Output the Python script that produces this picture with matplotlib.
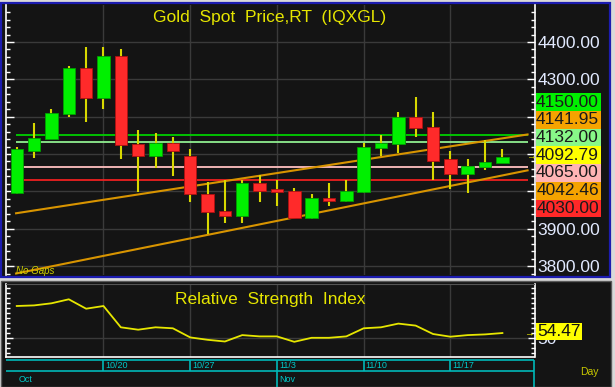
import matplotlib
matplotlib.use('Agg')
import matplotlib.pyplot as plt
from matplotlib.patches import Rectangle
import matplotlib.ticker as mticker
import numpy as np

plt.rcParams['font.family'] = ['Liberation Sans', 'DejaVu Sans']

# ---------------- data ----------------
dates = ['10/13', '10/14', '10/15', '10/16', '10/17',
         '10/20', '10/21', '10/22', '10/23', '10/24',
         '10/27', '10/28', '10/29', '10/30', '10/31',
         '11/3', '11/4', '11/5', '11/6', '11/7',
         '11/10', '11/11', '11/12', '11/13', '11/14',
         '11/17', '11/18', '11/19', '11/20']
opens = [3995, 4109, 4139, 4207, 4331, 4251, 4362, 4127, 4095, 4129,
         4095, 3994, 3947, 3935, 4022, 4005, 4002, 3928, 3981, 3975,
         3997, 4115, 4127, 4200, 4173, 4086, 4046, 4064, 4075]
highs = [4120, 4182, 4220, 4336, 4386, 4386, 4380, 4164, 4157, 4146,
         4113, 4024, 4030, 4030, 4044, 4030, 4008, 3992, 4022, 4030,
         4129, 4151, 4213, 4252, 4213, 4109, 4087, 4138, 4113]
lows = [3994, 4088, 4139, 4200, 4187, 4220, 4086, 3999, 4063, 4041,
        3971, 3885, 3914, 3914, 3971, 3961, 3928, 3926, 3961, 3971,
        3995, 4095, 4102, 4146, 4030, 4005, 3995, 4057, 4075]
closes = [4113, 4142, 4210, 4331, 4251, 4362, 4123, 4095, 4129, 4109,
          3992, 3945, 3935, 4022, 4001, 3998, 3928, 3981, 3975, 4002,
          4120, 4129, 4200, 4170, 4082, 4046, 4069, 4079, 4092.79]
rsi = [81.5, 82.1, 84.2, 88.2, 78.8, 81.5, 60.2, 57.8, 60.2, 59.2,
       50.1, 47.7, 46.0, 52.4, 51.1, 51.1, 45.7, 49.7, 49.7, 51.1,
       59.2, 60.2, 63.9, 61.9, 53.5, 50.8, 52.4, 53.1, 54.47]

week_labels = ['10/20', '10/27', '11/3', '11/10', '11/17']
month_labels = ['Oct', 'Nov']
month_starts = ['10/13', '11/3']

levels = [4150.00, 4132.00, 4065.00, 4030.00]
level_colors = ['#00d000', '#90ee90', '#ffc0c0', '#ee2020']

trend_x = [-0.04, 29.45]
trend_upper = [3941.3, 4152.3]
trend_lower = [3780.0, 4056.2]

price_ticks = [3800, 3900, 4000, 4100, 4200, 4300, 4400]
price_tick_labels = ['3800.00', '3900.00', '', '', '', '4300.00', '4400.00']

box_values = [4150.00, 4141.95, 4132.00, 4092.79, 4065.00, 4042.46, 4030.00]
box_colors = ['#00f000', '#f5a300', '#88f888', '#ffff00', '#ffb4b4', '#f5a300', '#ff2828']
rsi_ticks = [50]
rsi_tick_labels = ['50']
rsi_last = 54.47

# ---------------- layout helpers ----------------
W, H = 615, 387
fig = plt.figure(figsize=(6.15, 3.87), dpi=100, facecolor='#d9d9d9')


def fx(x):
    return x / W


def fy(y):
    return 1 - y / H


BG = '#141414'
GRID = '#3a3a3a'
YEL = '#e6e600'
CYAN = '#00b8b8'

# panels
fig.add_artist(Rectangle((fx(1), fy(277)), fx(610) - fx(1), fy(3) - fy(277),
                         transform=fig.transFigure, facecolor=BG,
                         edgecolor='#1c1cb0', lw=1.6, zorder=-10))
fig.add_artist(Rectangle((fx(1), fy(387)), fx(611) - fx(1), fy(281) - fy(387),
                         transform=fig.transFigure, facecolor=BG,
                         edgecolor='#5a5a5a', lw=1.0, zorder=-10))

x = np.arange(len(dates))
week_idx = [dates.index(d) for d in week_labels]
XL = (-0.62, 29.85)

# ---------------- price panel ----------------
ax = fig.add_axes([fx(6), fy(275), fx(534.5) - fx(6), fy(5) - fy(275)])
ax.set_facecolor('none')
ax.set_xlim(*XL)
ax.set_ylim(3776, 4499)
ax.set_yticks(price_ticks)
ax.set_yticklabels(price_tick_labels)
ax.yaxis.set_minor_locator(mticker.MultipleLocator(20))
ax.set_xticks(week_idx)
ax.grid(True, which='major', color=GRID, lw=1.0)
ax.set_axisbelow(True)
ax.tick_params(axis='x', bottom=False, labelbottom=False)
ax.tick_params(axis='y', which='both', left=True, right=True, direction='in',
               labelleft=False, labelright=True, color='white', pad=2,
               labelsize=12.5, labelcolor='#e2eaff')
ax.tick_params(axis='y', which='major', length=6, width=1)
ax.tick_params(axis='y', which='minor', length=3, width=1)
for s in ['top', 'bottom']:
    ax.spines[s].set_visible(False)
for s in ['left', 'right']:
    ax.spines[s].set_color('white')
    ax.spines[s].set_linewidth(1.2)

ax.hlines(levels, trend_x[0], trend_x[1], colors=level_colors, lw=1.3, zorder=2)
ax.plot(trend_x, trend_upper, color='#d89400', lw=1.5, zorder=2.5)
ax.plot(trend_x, trend_lower, color='#d89400', lw=1.5, zorder=2.5)

o = np.array(opens, dtype=float)
c = np.array(closes, dtype=float)
up = c >= o
body_col = np.where(up, '#00f000', '#ff2a2a')
edge_col = np.where(up, '#00a000', '#b01010')
ax.vlines(x, lows, highs, color='#d8d800', lw=1.5, zorder=3)
ax.bar(x, np.abs(c - o), bottom=np.minimum(o, c), width=0.72,
       color=body_col, edgecolor=edge_col, lw=0.6, zorder=4)

fig.text(fx(270), fy(22), 'Gold  Spot  Price,RT  (IQXGL)', ha='center',
         va='baseline', color=YEL, fontsize=12.5)
fig.text(fx(16), fy(271.5), 'No Gaps', ha='left', va='center', color='#d0d000',
         fontsize=7, style='italic')
fig.text(fx(526), fy(156), '\u2192', ha='left', va='center', color=YEL, fontsize=7)

# right side value boxes
bh = 17.7
for k, (v, col) in enumerate(zip(box_values, box_colors)):
    top = 93.3 + k * bh
    fig.add_artist(Rectangle((fx(536), fy(top + bh)), fx(601) - fx(536), bh / H,
                             transform=fig.transFigure, facecolor=col,
                             edgecolor='none', zorder=10))
    fig.text(fx(567.5), fy(top + bh / 2), f'{v:.2f}', ha='center', va='center',
             color='#1a1a1a', fontsize=12.5, zorder=11)

# ---------------- RSI panel ----------------
ax2 = fig.add_axes([fx(6), fy(357), fx(534.5) - fx(6), fy(284) - fy(357)])
ax2.set_facecolor('none')
ax2.set_xlim(*XL)
ax2.set_ylim(30.5, 103.5)
ax2.set_yticks(rsi_ticks)
ax2.set_yticklabels(rsi_tick_labels)
ax2.yaxis.set_minor_locator(mticker.MultipleLocator(5))
ax2.set_xticks(week_idx)
ax2.grid(True, which='major', color=GRID, lw=1.0)
ax2.set_axisbelow(True)
ax2.tick_params(axis='x', bottom=False, labelbottom=False)
ax2.tick_params(axis='y', which='both', left=True, right=True, direction='in',
                labelleft=False, labelright=True, color='white', pad=2,
                labelsize=12.5, labelcolor='#e2eaff')
ax2.tick_params(axis='y', which='major', length=5, width=1)
ax2.tick_params(axis='y', which='minor', length=3, width=1)
for s in ['left', 'right', 'bottom']:
    ax2.spines[s].set_color('white')
    ax2.spines[s].set_linewidth(1.2)
ax2.spines['top'].set_color('#555555')
ax2.plot(x, rsi, color=YEL, lw=1.3, zorder=3)

fig.text(fx(270), fy(304), 'Relative  Strength  Index', ha='center',
         va='baseline', color=YEL, fontsize=12.5)
fig.text(fx(524), fy(333), '\u2192', ha='left', va='center', color=YEL, fontsize=7)
fig.add_artist(Rectangle((fx(536), fy(340)), fx(582) - fx(536), 17 / H,
                         transform=fig.transFigure, facecolor='#ffff00',
                         edgecolor='none', zorder=10))
fig.text(fx(559), fy(331.5), f'{rsi_last:.2f}', ha='center', va='center',
         color='#111111', fontsize=12.5, zorder=11)

# ---------------- date strip ----------------
ax3 = fig.add_axes([fx(6), 0, fx(534.5) - fx(6), fy(358)])
ax3.set_facecolor('none')
ax3.set_xlim(*XL)
ax3.set_ylim(387, 358)
ax3.axis('off')
ax3.hlines([359.5, 371], XL[0], XL[1], colors=CYAN, lw=1.2)
ax3.vlines(week_idx, 359.5, 371, colors=CYAN, lw=1.2)
ax3.vlines([XL[1]], 359.5, 387, colors=CYAN, lw=1.2)
month_idx = [dates.index(d) for d in month_starts]
ax3.vlines(month_idx[1:], 371, 387, colors=CYAN, lw=1.2)
for idx, lab in zip(week_idx, week_labels):
    ax3.annotate(lab, (idx, 365.5), xytext=(1.5, 0), textcoords='offset points',
                 ha='left', va='center', color='#00c8c8', fontsize=6.5)
for idx, lab in zip(month_idx, month_labels):
    ax3.annotate(lab, (idx, 379), xytext=(1.5, 0), textcoords='offset points',
                 ha='left', va='center', color='#00c8c8', fontsize=6.5)

fig.text(fx(589.5), fy(372), 'Day', ha='center', va='center', color='#c8c800',
         fontsize=7.5)

fig.savefig('out.png', dpi=100, facecolor=fig.get_facecolor())
